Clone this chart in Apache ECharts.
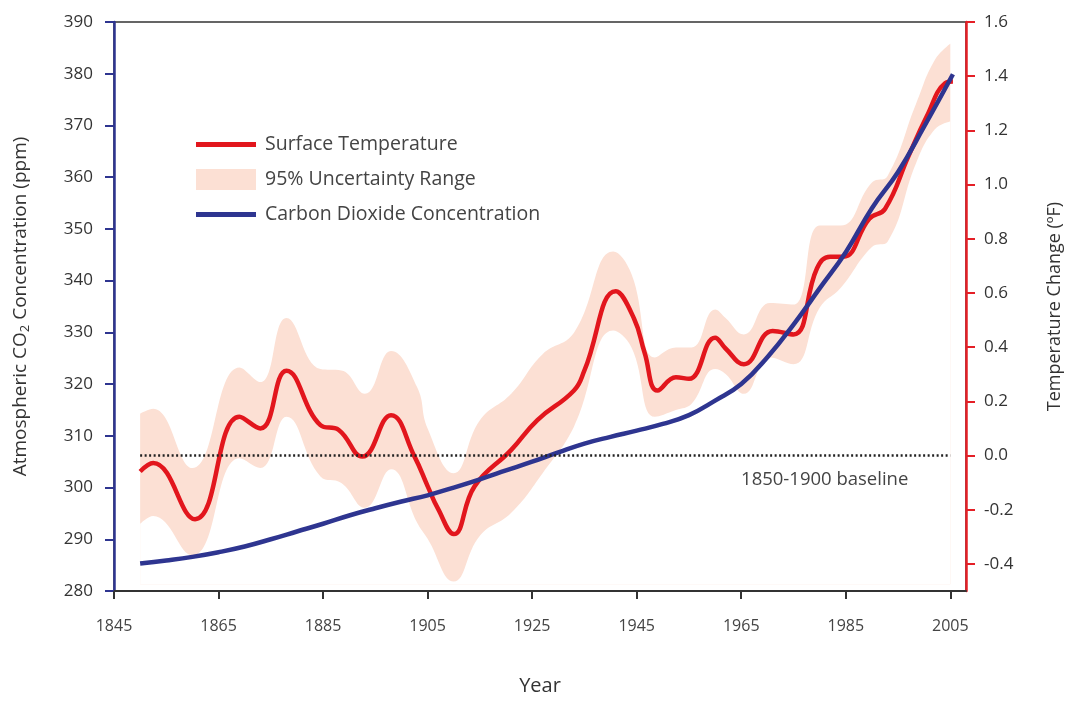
<!DOCTYPE html>
<html>
<head>
<meta charset="utf-8">
<script src="https://cdn.jsdelivr.net/npm/echarts@6/dist/echarts.min.js"></script>
<style>
html,body{margin:0;padding:0;background:#fff;overflow:hidden;}
#chart{width:1072px;height:701px;}
</style>
</head>
<body>
<div id="chart"></div>
<script>
// ---- Data ----
var tempYears = [1850, 1852.5, 1860.5, 1869, 1873, 1878, 1884.5, 1888, 1892.5, 1898, 1902.5, 1905, 1907, 1910, 1914, 1921, 1926, 1933, 1935, 1941, 1944.5, 1946.5, 1949, 1952.5, 1955, 1960, 1962, 1965.5, 1971, 1975, 1979.5, 1982, 1984.5, 1989.5, 1992.5, 1997, 2000.5, 2004, 2005.5];
var tempValues = [-0.059, -0.028, -0.235, 0.143, 0.100, 0.313, 0.112, 0.094, -0.004, 0.149, -0.004, -0.113, -0.197, -0.290, -0.113, 0.021, 0.131, 0.240, 0.314, 0.606, 0.505, 0.380, 0.240, 0.289, 0.283, 0.435, 0.395, 0.337, 0.460, 0.447, 0.691, 0.734, 0.734, 0.874, 0.910, 1.105, 1.252, 1.374, 1.380];

var bandYears = [1850, 1852.5, 1860, 1869, 1873, 1878, 1884.5, 1888.5, 1893, 1898, 1903, 1905, 1910, 1915, 1921, 1927, 1933, 1940.5, 1944, 1948.5, 1952.5, 1955.5, 1960, 1962, 1965.5, 1970.5, 1975, 1980, 1984, 1990, 1993, 1998.5, 2002, 2005];
var bandUpper = [0.155, 0.173, -0.046, 0.325, 0.271, 0.508, 0.319, 0.314, 0.228, 0.386, 0.252, 0.100, -0.065, 0.130, 0.228, 0.374, 0.453, 0.753, 0.670, 0.362, 0.399, 0.399, 0.539, 0.508, 0.447, 0.563, 0.557, 0.849, 0.849, 1.008, 1.032, 1.301, 1.459, 1.520];
var bandLower = [-0.252, -0.223, -0.369, -0.010, -0.046, 0.143, -0.077, -0.101, -0.193, -0.051, -0.248, -0.307, -0.465, -0.296, -0.211, -0.065, 0.106, 0.461, 0.399, 0.143, 0.168, 0.191, 0.319, 0.301, 0.228, 0.362, 0.337, 0.545, 0.618, 0.770, 0.789, 1.081, 1.203, 1.233];

var co2Years = [1850, 1855, 1860, 1865, 1870, 1875, 1880, 1885, 1890, 1895, 1900, 1905, 1910, 1915, 1920, 1925, 1930, 1935, 1940, 1945, 1950, 1955, 1960, 1965, 1970, 1975, 1980, 1985, 1990, 1995, 2000, 2005.5];
var co2Values = [285.3, 285.9, 286.6, 287.5, 288.6, 290.0, 291.5, 293.0, 294.6, 296.0, 297.3, 298.5, 300.0, 301.6, 303.3, 305.0, 306.8, 308.5, 309.8, 311.0, 312.3, 314.0, 316.8, 320.0, 325.2, 331.5, 338.5, 345.5, 354.0, 361.0, 369.8, 379.9];

var baselineYears = [1850, 2005];
var baselineValue = 0;
var baselineText = '1850-1900 baseline';

var xTicks = [1845, 1865, 1885, 1905, 1925, 1945, 1965, 1985, 2005];
var tempTicks = [-0.4, -0.2, 0.0, 0.2, 0.4, 0.6, 0.8, 1.0, 1.2, 1.4, 1.6];

// ---- Build ----
function pairs(xs, ys) { return xs.map(function (x, i) { return [x, ys[i]]; }); }

var FONT = 'Open Sans';
var RED = '#e2161d', BLUE = '#2e3590', BAND = '#fce0d4';
var LINE_ICON = 'path://M0,0 M60,21 M0,8 L60,8 L60,13 L0,13 Z';
var BAND_FLOOR = -0.475; // fill origin just above the axis bottom

var chart = echarts.init(document.getElementById('chart'), null, { renderer: 'canvas', width: 1072, height: 701 });
chart.setOption({
  backgroundColor: '#ffffff',
  animation: false,
  textStyle: { fontFamily: FONT },
  grid: { left: 114, top: 22, width: 859, height: 577, show: true, borderColor: '#333', borderWidth: 1.5, backgroundColor: 'transparent' },
  legend: {
    orient: 'vertical', left: 191, top: 129, itemWidth: 60, itemHeight: 21, itemGap: 14,
    textStyle: { fontFamily: FONT, fontSize: 19.5, color: '#444', padding: [0, 0, 0, 4] },
    data: [
      { name: 'Surface Temperature', icon: LINE_ICON },
      { name: '95% Uncertainty Range', icon: 'rect' },
      { name: 'Carbon Dioxide Concentration', icon: LINE_ICON }
    ]
  },
  xAxis: {
    type: 'value', min: 1845, max: 2008, interval: 20,
    name: 'Year', nameLocation: 'middle', nameGap: 85,
    nameTextStyle: { fontFamily: FONT, fontSize: 20, color: '#333' },
    axisLine: { onZero: false, lineStyle: { color: '#333', width: 2 } },
    axisTick: { customValues: xTicks, length: 8, lineStyle: { color: '#333', width: 2 } },
    axisLabel: { customValues: xTicks, margin: 27, fontFamily: FONT, fontSize: 16, color: '#444',
      formatter: function (v) { return String(v); } },
    splitLine: { show: false }
  },
  yAxis: [
    {
      type: 'value', min: 280, max: 390, interval: 10, position: 'left',
      name: 'Atmospheric CO{sub|2} Concentration (ppm)', nameLocation: 'middle', nameGap: 82,
      nameTextStyle: { fontFamily: FONT, fontSize: 19, color: '#333',
        rich: { sub: { fontFamily: FONT, fontSize: 13, color: '#333', padding: [10, 0, 0, 0] } } },
      axisLine: { show: true, onZero: false, lineStyle: { color: BLUE, width: 2.5 } },
      axisTick: { show: true, length: 9, lineStyle: { color: BLUE, width: 2 } },
      axisLabel: { margin: 21, fontFamily: FONT, fontSize: 17, color: '#333' },
      splitLine: { show: false }
    },
    {
      type: 'value', min: -0.5, max: 1.6, position: 'right',
      name: 'Temperature Change (ºF)', nameLocation: 'middle', nameGap: 80, nameRotate: 90,
      nameTextStyle: { fontFamily: FONT, fontSize: 18, color: '#333' },
      axisLine: { show: true, onZero: false, lineStyle: { color: '#e41f26', width: 2.5 } },
      axisTick: { show: true, customValues: tempTicks, length: 9, lineStyle: { color: '#e41f26', width: 2 } },
      axisLabel: { customValues: tempTicks, margin: 18, fontFamily: FONT, fontSize: 17, color: '#333',
        formatter: function (v) { return v.toFixed(1); } },
      splitLine: { show: false }
    }
  ],
  series: [
    {
      name: '95% Uncertainty Range', type: 'line', yAxisIndex: 1, data: pairs(bandYears, bandUpper),
      smooth: 0.45, symbol: 'none', color: BAND, itemStyle: { color: BAND },
      lineStyle: { width: 0, opacity: 0 }, areaStyle: { color: BAND, opacity: 1, origin: BAND_FLOOR }, silent: true, z: 1
    },
    {
      name: 'band-lower', type: 'line', yAxisIndex: 1, data: pairs(bandYears, bandLower),
      smooth: 0.45, symbol: 'none', color: '#ffffff',
      lineStyle: { width: 0, opacity: 0 }, areaStyle: { color: '#ffffff', opacity: 1, origin: BAND_FLOOR }, silent: true, z: 1.5
    },
    {
      name: 'Surface Temperature', type: 'line', yAxisIndex: 1, data: pairs(tempYears, tempValues),
      smooth: 0.45, symbol: 'none', color: RED, lineStyle: { color: RED, width: 4.5 }, z: 3
    },
    {
      name: 'Carbon Dioxide Concentration', type: 'line', yAxisIndex: 0, data: pairs(co2Years, co2Values),
      smooth: 0.45, symbol: 'none', color: BLUE, lineStyle: { color: BLUE, width: 4.5 }, z: 4
    },
    {
      name: 'baseline', type: 'line', yAxisIndex: 1,
      data: pairs(baselineYears, [baselineValue, baselineValue]),
      symbol: 'none', lineStyle: { color: '#222', width: 2.5, type: [2, 2.5] }, z: 5, silent: true,
      markPoint: {
        silent: true, symbol: 'circle', symbolSize: 0,
        data: [{ coord: [baselineYears[1], baselineValue],
          label: { show: true, position: 'bottom', align: 'right', distance: 6, offset: [-42, 9],
            formatter: baselineText, fontFamily: FONT, fontSize: 18.5, color: '#444' } }]
      }
    }
  ]
});
</script>
</body>
</html>
